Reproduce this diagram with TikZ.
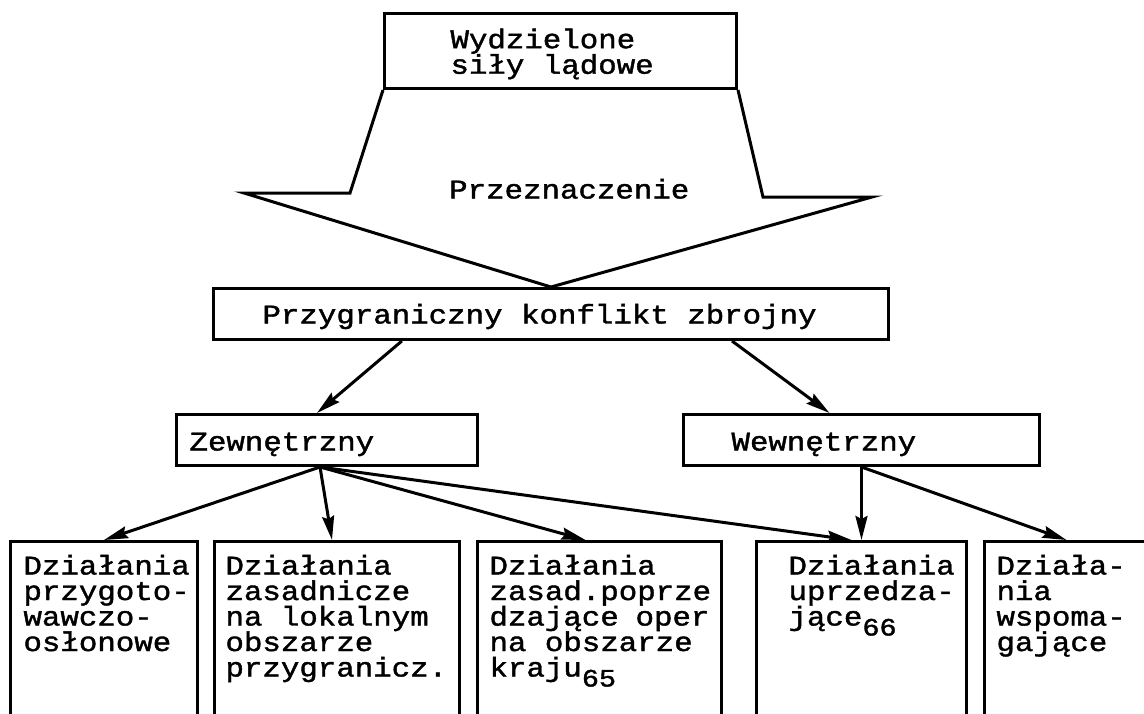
\documentclass[tikz,border=0pt]{standalone}
\usepackage{fontspec}
\usepackage{tikz}
\usetikzlibrary{arrows.meta,calc}
\newfontfamily\dotfont{Liberation Mono}[FakeStretch=1.14,FakeBold=1.5]
\hyphenpenalty=10000 \exhyphenpenalty=10000 \hfuzz=100pt \hbadness=10000
\newcommand{\lowidx}[1]{\raisebox{-10pt}{\fontsize{25}{25}\selectfont #1}}

\tikzset{
  txt/.style={font=\dotfont\fontsize{27}{25.5}\selectfont},
  box/.style={txt,draw,line width=3pt,inner sep=0pt,align=flush left,anchor=north west},
  arr/.style={line width=3pt,-{Stealth[length=24pt,width=12pt,inset=3pt]}}
}

\begin{document}
\begin{tikzpicture}[x=1pt,y=-1pt]
                \useasboundingbox (0,0) rectangle (1144,713);
                \clip (0,0) rectangle (1144,713);

                \node (sily) at (383,12) [box,minimum width=352pt,text width=220pt,text height=34.7pt,text depth=40.3pt] {Wydzielone\\siły lądowe};
                \node (konf) at (212,287) [box,minimum width=675pt,text width=577pt,text height=35pt,text depth=16pt] {Przygraniczny konflikt zbrojny};
                \node (zew) at (175,413) [box,minimum width=301pt,text width=275pt,text height=36pt,text depth=15pt] {Zewnętrzny};
                \node (wew) at (682,413) [box,minimum width=356pt,text width=260pt,text height=36pt,text depth=15pt] {Wewnętrzny};

                \node (d1) at (9,540) [box,minimum width=187pt,text width=161pt,text height=33pt,text depth=200pt] {Działania\\przygoto-\\wawczo-\\osłonowe};
                \node (d2) at (213,540) [box,minimum width=245pt,text width=223pt,text height=33pt,text depth=200pt] {Działania\\zasadnicze\\na lokalnym\\obszarze\\przygranicz.};
                \node (d3) at (476,540) [box,minimum width=244pt,text width=220pt,text height=33pt,text depth=200pt] {Działania\\zasad.poprze\\dzające oper\\na obszarze\\kraju\lowidx{65}};
                \node (d4) at (755,540) [box,minimum width=210pt,text width=146pt,text height=33pt,text depth=200pt] {Działania\\uprzedza-\\jące\lowidx{66}};
                \node (d5) at (983,540) [box,minimum width=190pt,text width=166pt,text height=33pt,text depth=200pt] {Działa-\\nia\\wspoma-\\gające};

                % wide arrow between the two top boxes
                \draw[line width=3pt] (sily.south west) -- (350,193) -- (244,193) -- (konf.north)
                -- (872,197) -- (763,197) -- (sily.south east);
                \node (cel) at (449,198.5) [txt,anchor=base west,inner sep=0pt] {Przeznaczenie};

                \draw[arr] ($(konf.south west)!.28!(konf.south east)$) -- ($(zew.north)+(-10,0)$);
                \draw[arr] ($(konf.south west)!.767!(konf.south east)$) -- ($(wew.north)+(-32,0)$);

                \coordinate (zs) at ($(zew.south)+(-7,0)$);
                \draw[arr] (zs) -- (d1.north);
                \draw[arr] (zs) -- ($(d2.north)+(-5,0)$);
                \draw[arr] (zs) -- ($(d3.north)+(-14,0)$);
                \draw[arr] (zs) -- ($(d4.north)+(-10,0)$);
                \draw[arr] (wew.south) -- (d4.north);
                \draw[arr] (wew.south) -- ($(d5.north)+(-13,0)$);
\end{tikzpicture}
\end{document}
